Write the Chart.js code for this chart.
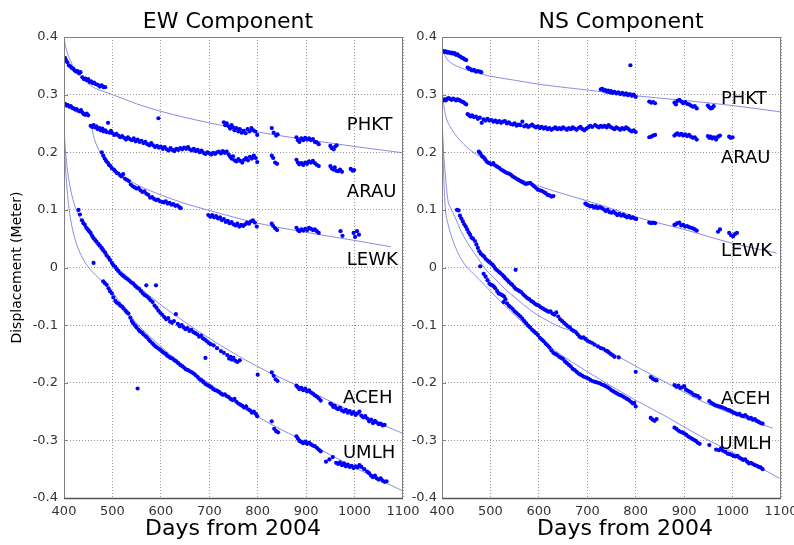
<!DOCTYPE html>
<html>
<head>
<meta charset="utf-8">
<script src="https://cdn.jsdelivr.net/npm/chart.js@4/dist/chart.umd.min.js"></script>
<style>
html,body{margin:0;padding:0;background:#fff;}
#wrap{position:relative;width:794px;height:545px;overflow:hidden;background:#fff;}
#c1{position:absolute;left:0;top:0;}
#c2{position:absolute;left:405px;top:0;}
</style>
</head>
<body>
<div id="wrap">
<canvas id="c1" width="420" height="545"></canvas>
<canvas id="c2" width="389" height="545"></canvas>
</div>
<script>
// ---------- tick labels ----------
const xTicks = [400, 500, 600, 700, 800, 900, 1000, 1100];
const yTicks = [-0.4, -0.3, -0.2, -0.1, 0, 0.1, 0.2, 0.3, 0.4];
const stations = ['PHKT', 'ARAU', 'LEWK', 'ACEH', 'UMLH'];

// ---------- EW component: observed daily positions [day, metre] ----------
const ewPHKT = [[402,0.364],[404,0.360],[407,0.356],[410,0.351],[413,0.349],[416,0.346],[419,0.345],[422,0.342],[425,0.340],[428,0.341],[431,0.337],[434,0.339],[438,0.330],[441,0.327],[444,0.328],[447,0.325],[450,0.327],[453,0.322],[456,0.323],[459,0.320],[462,0.321],[466,0.318],[470,0.317],[474,0.314],[478,0.316],[482,0.313],[485,0.313],
[595,0.259],
[730,0.252],[733,0.247],[736,0.250],[740,0.245],[743,0.241],[746,0.247],[749,0.243],[752,0.238],[756,0.242],[760,0.236],[763,0.240],[767,0.234],[771,0.237],[775,0.233],[779,0.240],[783,0.236],[787,0.242],[791,0.238],[795,0.236],[799,0.230],
[829,0.242],[833,0.234],[838,0.229],[841,0.231],
[880,0.226],[883,0.221],[886,0.218],[890,0.224],[894,0.221],[898,0.225],[902,0.222],[906,0.224],[910,0.221],[914,0.223],[918,0.218],[922,0.217],[926,0.214],
[950,0.211],[953,0.207],[957,0.205],[960,0.210],[963,0.212]];

const ewARAU = [[402,0.284],[405,0.281],[408,0.282],[411,0.279],[414,0.280],[417,0.277],[420,0.276],[423,0.274],[426,0.275],[429,0.272],[432,0.271],[435,0.273],[438,0.269],[441,0.266],[444,0.265],[447,0.267],[450,0.264],
[455,0.246],[458,0.244],[461,0.247],[464,0.243],[467,0.245],[470,0.240],[473,0.242],[476,0.238],[479,0.241],[482,0.236],[485,0.238],[488,0.235],[491,0.251],[494,0.234],[497,0.237],[500,0.233],[504,0.230],[508,0.232],[512,0.229],[516,0.226],[520,0.228],[524,0.225],[528,0.222],[532,0.226],[536,0.223],[540,0.221],[544,0.224],[548,0.219],[552,0.222],[556,0.218],[560,0.220],[564,0.216],[568,0.218],[572,0.214],[576,0.212],[580,0.216],[584,0.212],[588,0.209],[592,0.211],[596,0.208],[600,0.210],[604,0.206],[608,0.209],[612,0.205],[616,0.203],[620,0.207],[624,0.204],[628,0.202],[632,0.206],[636,0.204],[640,0.207],[644,0.205],[648,0.208],[652,0.206],[656,0.209],[660,0.205],[664,0.203],[668,0.206],[672,0.202],[676,0.204],[680,0.200],[684,0.203],[688,0.199],[692,0.197],[696,0.200],[700,0.198],[704,0.196],[708,0.199],[712,0.197],[716,0.200],[720,0.201],[724,0.198],[728,0.202],[732,0.199],[736,0.201],
[740,0.196],[743,0.192],[746,0.189],[749,0.193],[752,0.186],[756,0.184],[760,0.188],[764,0.185],[768,0.182],[772,0.187],[776,0.190],[780,0.186],[784,0.192],[788,0.189],[792,0.194],[796,0.190],[799,0.183],
[829,0.194],[832,0.190],[836,0.182],[840,0.180],
[880,0.187],[883,0.182],[886,0.179],[890,0.181],[894,0.178],[898,0.182],[902,0.180],[906,0.184],[910,0.182],[914,0.185],[918,0.181],[922,0.178],[926,0.176],
[950,0.176],[953,0.172],[956,0.170],[959,0.174],[962,0.168],[966,0.167],[970,0.170],[974,0.166],[992,0.171],[996,0.168],[999,0.169]];

const ewLEWK = [[478,0.200],[481,0.194],[484,0.189],[487,0.185],[490,0.182],[493,0.178],[496,0.176],[499,0.172],[503,0.170],[506,0.167],[509,0.164],[512,0.163],[516,0.160],[519,0.158],[522,0.162],[526,0.154],[530,0.152],[534,0.150],[538,0.144],[542,0.141],[546,0.139],[550,0.137],[554,0.138],[558,0.134],[562,0.131],[566,0.132],[570,0.128],[574,0.126],[578,0.121],[582,0.122],[586,0.119],[590,0.117],[594,0.118],[598,0.115],[602,0.114],[606,0.113],[610,0.115],[614,0.111],[618,0.112],[622,0.109],[626,0.110],[630,0.107],[634,0.108],[638,0.105],[641,0.103],
[698,0.091],[702,0.088],[706,0.091],[710,0.087],[714,0.089],[718,0.085],[722,0.087],[726,0.082],[730,0.084],[734,0.079],[738,0.081],[742,0.077],[746,0.079],[750,0.075],[754,0.073],[758,0.076],[762,0.071],[766,0.074],[770,0.072],[774,0.075],[778,0.078],[782,0.076],[786,0.080],[790,0.082],[794,0.078],[798,0.071],
[829,0.076],[832,0.072],[836,0.068],[840,0.065],
[880,0.069],[883,0.065],[886,0.063],[890,0.066],[894,0.064],[898,0.067],[902,0.065],[906,0.069],[910,0.067],[914,0.065],[918,0.066],[922,0.063],[926,0.060],
[971,0.063],[975,0.055],[998,0.060],[1001,0.053],[1005,0.063],[1009,0.057]];

const ewACEH = [[430,0.100],[433,0.092],[437,0.082],[440,0.077],[443,0.074],[446,0.069],[449,0.066],[452,0.063],[455,0.060],[458,0.055],[461,0.051],[464,0.048],[467,0.045],[471,0.041],[474,0.038],[478,0.034],[481,0.030],[485,0.026],[488,0.021],[492,0.017],[495,0.013],[499,0.008],[502,0.004],[506,0.001],[509,-0.003],[512,-0.006],[516,-0.010],[520,-0.013],[523,-0.015],[527,-0.018],[531,-0.020],[535,-0.023],[539,-0.026],[543,-0.028],[547,-0.032],[551,-0.035],[555,-0.037],[559,-0.041],[563,-0.045],[567,-0.048],[571,-0.050],[575,-0.053],[579,-0.057],[583,-0.060],[587,-0.066],[591,-0.070],[595,-0.075],[599,-0.079],[603,-0.082],[607,-0.086],[611,-0.090],[615,-0.088],[619,-0.094],[623,-0.096],[627,-0.093],[631,-0.081],[635,-0.098],[639,-0.102],[643,-0.100],[647,-0.104],[651,-0.107],[655,-0.105],[659,-0.110],[663,-0.108],[667,-0.112],[671,-0.114],[675,-0.116],[679,-0.120],[683,-0.118],[687,-0.123],[691,-0.125],[695,-0.128],[699,-0.131],[703,-0.133],[709,-0.135],[716,-0.140],[724,-0.145],[730,-0.148],[737,-0.152],[741,-0.158],[744,-0.155],[747,-0.160],[750,-0.157],[754,-0.162],[758,-0.164],[763,-0.161],
[570,-0.031],[590,-0.031],[692,-0.157],
[800,-0.186],[829,-0.182],[833,-0.188],[837,-0.194],[841,-0.197],
[880,-0.205],[883,-0.208],[886,-0.211],[890,-0.209],[894,-0.213],[898,-0.210],[902,-0.215],[906,-0.213],[910,-0.217],[914,-0.219],[918,-0.222],[922,-0.224],[926,-0.227],[930,-0.231],
[950,-0.236],[953,-0.238],[956,-0.242],[959,-0.240],[962,-0.244],[966,-0.246],[970,-0.243],[974,-0.248],[978,-0.250],[982,-0.247],[986,-0.252],[990,-0.249],[994,-0.254],[998,-0.251],[1002,-0.256],[1006,-0.253],[1010,-0.250],[1014,-0.257],[1018,-0.260],[1022,-0.258],[1026,-0.262],[1030,-0.267],[1034,-0.264],[1038,-0.270],[1042,-0.266],[1046,-0.269],[1050,-0.272],[1054,-0.271],[1058,-0.274],[1062,-0.273]];

const ewUMLH = [[461,0.008],[481,-0.024],[484,-0.027],[488,-0.030],[492,-0.036],[495,-0.041],[499,-0.045],[502,-0.052],[506,-0.058],[509,-0.061],[513,-0.063],[516,-0.066],[520,-0.068],[523,-0.071],[527,-0.075],[530,-0.078],[533,-0.080],[537,-0.087],[540,-0.093],[543,-0.097],[547,-0.101],[550,-0.104],[554,-0.108],[557,-0.111],[561,-0.113],[564,-0.116],[568,-0.119],[571,-0.121],[575,-0.125],[578,-0.128],[582,-0.131],[585,-0.134],[589,-0.137],[592,-0.139],[596,-0.141],[599,-0.143],[603,-0.146],[606,-0.148],[610,-0.150],[613,-0.153],[617,-0.155],[620,-0.157],[624,-0.158],[628,-0.161],[632,-0.163],[636,-0.166],[640,-0.169],[644,-0.171],[648,-0.174],[652,-0.177],[656,-0.178],[660,-0.180],[664,-0.182],[668,-0.184],[672,-0.187],[676,-0.190],[680,-0.194],[684,-0.196],[688,-0.199],[692,-0.202],[696,-0.204],[700,-0.206],[704,-0.208],[708,-0.211],[712,-0.213],[716,-0.214],[720,-0.216],[724,-0.219],[728,-0.221],[732,-0.220],[736,-0.223],[740,-0.225],[744,-0.228],[748,-0.230],[752,-0.228],[756,-0.233],[760,-0.236],[764,-0.238],[768,-0.240],[772,-0.243],[776,-0.241],[780,-0.246],[784,-0.248],[788,-0.252],[792,-0.250],[796,-0.254],[799,-0.258],
[552,-0.210],
[829,-0.267],[834,-0.280],[838,-0.284],[842,-0.286],
[880,-0.293],[883,-0.297],[886,-0.301],[890,-0.303],[894,-0.305],[898,-0.302],[902,-0.306],[906,-0.304],[910,-0.307],[914,-0.309],[918,-0.310],[922,-0.313],[926,-0.316],[930,-0.319],
[941,-0.337],[948,-0.333],[955,-0.329],[962,-0.339],[966,-0.341],[970,-0.338],[974,-0.343],[978,-0.340],[982,-0.345],[986,-0.342],[990,-0.346],[994,-0.344],[998,-0.348],[1002,-0.345],[1006,-0.347],[1010,-0.343],[1014,-0.346],[1020,-0.350],[1026,-0.354],[1030,-0.357],[1034,-0.361],[1038,-0.364],[1042,-0.361],[1046,-0.366],[1050,-0.368],[1054,-0.366],[1058,-0.370],[1062,-0.372],[1066,-0.371]];

// ---------- EW component: fitted curves ----------
const ewFitPHKT = [[400,0.400],[403,0.385],[407,0.372],[412,0.362],[419,0.349],[430,0.337],[440,0.327],[460,0.313],[480,0.306],[500,0.300],[550,0.284],[600,0.271],[700,0.251],[800,0.235],[900,0.222],[1000,0.210],[1100,0.199]];
const ewFitLEWK = [[457,0.245],[460,0.232],[464,0.220],[470,0.207],[481,0.192],[495,0.177],[509,0.166],[530,0.154],[557,0.141],[600,0.126],[650,0.111],[700,0.099],[800,0.077],[900,0.061],[1000,0.047],[1075,0.036]];
const ewFitACEH = [[400,0.245],[402,0.215],[405,0.185],[409,0.158],[415,0.130],[422,0.108],[432,0.088],[445,0.068],[460,0.048],[480,0.026],[500,0.008],[550,-0.030],[600,-0.065],[650,-0.095],[700,-0.123],[800,-0.172],[900,-0.212],[1000,-0.252],[1100,-0.288]];
const ewFitUMLH = [[400,0.245],[401,0.210],[403,0.175],[406,0.140],[409,0.112],[414,0.082],[420,0.058],[428,0.036],[438,0.017],[450,0.001],[465,-0.013],[480,-0.025],[500,-0.043],[550,-0.097],[600,-0.137],[650,-0.172],[700,-0.201],[800,-0.259],[900,-0.303],[1000,-0.347],[1100,-0.388]];

// ---------- NS component: observed daily positions ----------
const nsPHKT = [[402,0.376],[405,0.374],[408,0.375],[411,0.373],[414,0.374],[417,0.372],[420,0.373],[423,0.371],[426,0.372],[429,0.369],[432,0.370],[435,0.367],[438,0.366],[441,0.364],[444,0.363],[447,0.361],[450,0.360],
[453,0.347],[456,0.345],[459,0.344],[462,0.342],[466,0.343],[470,0.340],[474,0.341],[478,0.340],[481,0.339],
[789,0.351],
[728,0.309],[731,0.310],[734,0.307],[737,0.308],[740,0.305],[743,0.307],[746,0.304],[749,0.306],[752,0.303],[756,0.305],[760,0.302],[764,0.304],[768,0.301],[772,0.303],[776,0.300],[780,0.302],[784,0.299],[788,0.301],[792,0.298],[796,0.300],[800,0.296],
[828,0.288],[832,0.286],[836,0.287],[840,0.285],
[880,0.286],[883,0.283],[886,0.289],[890,0.291],[894,0.288],[898,0.285],[902,0.287],[906,0.284],[910,0.283],[914,0.281],[918,0.279],[922,0.280],[926,0.276],
[949,0.281],[952,0.278],[955,0.276],[958,0.277],[961,0.280]];

const nsARAU = [[402,0.290],[405,0.292],[408,0.290],[411,0.293],[414,0.294],[417,0.292],[420,0.291],[423,0.293],[426,0.292],[429,0.290],[432,0.292],[435,0.291],[438,0.289],[441,0.288],[444,0.287],[447,0.285],[450,0.283],
[453,0.266],[456,0.264],[459,0.262],[462,0.264],[466,0.261],[470,0.262],[474,0.258],[478,0.260],[482,0.251],[486,0.257],[490,0.255],[494,0.258],[498,0.255],[502,0.256],[506,0.253],[510,0.255],[514,0.252],[518,0.254],[522,0.251],[526,0.253],[530,0.254],[534,0.250],[538,0.252],[542,0.249],[546,0.248],[550,0.250],[554,0.246],[558,0.248],[562,0.247],[566,0.253],[570,0.245],[574,0.247],[578,0.244],[582,0.246],[586,0.248],[590,0.245],[594,0.243],[598,0.245],[602,0.242],[606,0.244],[610,0.241],[614,0.243],[618,0.240],[622,0.242],[626,0.239],[630,0.241],[634,0.243],[638,0.240],[642,0.242],[646,0.240],[650,0.243],[654,0.241],[658,0.239],[662,0.242],[666,0.240],[670,0.243],[674,0.241],[678,0.239],[682,0.242],[686,0.244],[690,0.240],[694,0.238],[698,0.241],[702,0.243],[706,0.246],[710,0.244],[716,0.247],[720,0.245],[724,0.243],[728,0.246],[732,0.244],[736,0.246],[740,0.243],[744,0.247],[748,0.244],[752,0.242],[756,0.240],[760,0.243],[764,0.241],[768,0.239],[772,0.242],[776,0.240],[780,0.243],[784,0.241],[788,0.238],[792,0.236],[796,0.238],[800,0.235],
[828,0.226],[832,0.227],[836,0.229],[840,0.230],
[880,0.229],[883,0.231],[886,0.233],[890,0.230],[894,0.232],[898,0.229],[902,0.231],[906,0.228],[910,0.230],[914,0.227],[918,0.225],[922,0.226],[926,0.222],
[949,0.228],[952,0.225],[955,0.227],[958,0.224],[962,0.226],[966,0.222],[970,0.227],[974,0.229],[993,0.227],[996,0.225],[1000,0.226]];

const nsLEWK = [[476,0.201],[478,0.199],[480,0.197],[483,0.193],[486,0.191],[489,0.188],[492,0.184],[495,0.182],[498,0.181],[502,0.179],[506,0.181],[510,0.177],[514,0.175],[518,0.173],[522,0.170],[526,0.168],[530,0.166],[534,0.164],[538,0.163],[542,0.161],[546,0.158],[550,0.156],[554,0.154],[558,0.152],[562,0.150],[566,0.148],[570,0.146],[574,0.145],[578,0.146],[582,0.147],[586,0.144],[590,0.141],[594,0.138],[598,0.135],[602,0.134],[606,0.133],[610,0.131],[614,0.129],[618,0.126],[622,0.125],[626,0.123],[630,0.124],
[696,0.111],[699,0.109],[702,0.108],[706,0.106],[710,0.107],[714,0.104],[718,0.106],[722,0.103],[726,0.105],[730,0.103],[734,0.101],[738,0.098],[742,0.100],[746,0.096],[750,0.095],[754,0.097],[758,0.094],[762,0.091],[766,0.093],[770,0.090],[774,0.092],[778,0.089],[782,0.087],[786,0.089],[790,0.086],[794,0.087],[798,0.085],[801,0.084],
[828,0.078],[832,0.077],[836,0.078],[840,0.077],
[880,0.074],[883,0.075],[886,0.077],[890,0.078],[894,0.073],[898,0.074],[902,0.071],[906,0.072],[910,0.070],[914,0.069],[918,0.068],[922,0.066],[926,0.064],
[970,0.062],[974,0.066],[993,0.060],[997,0.056],[1001,0.054],[1005,0.058],[1009,0.060]];

const nsACEH = [[431,0.100],[434,0.099],[437,0.090],[440,0.085],[443,0.080],[446,0.075],[449,0.071],[452,0.066],[455,0.061],[458,0.057],[461,0.052],[464,0.050],[468,0.046],[471,0.040],[474,0.034],[477,0.028],[480,0.024],[484,0.021],[487,0.019],[490,0.015],[494,0.012],[497,0.010],[500,0.008],[504,0.005],[507,0.002],[510,-0.002],[514,-0.005],[518,-0.008],[521,-0.010],[525,-0.013],[528,-0.016],[531,-0.019],[535,-0.022],[538,-0.025],[542,-0.028],[545,-0.030],[549,-0.034],[552,-0.037],[556,-0.039],[560,-0.041],[564,-0.043],[568,-0.047],[572,-0.050],[576,-0.053],[580,-0.055],[584,-0.058],[588,-0.060],[592,-0.063],[596,-0.065],[600,-0.066],[604,-0.069],[608,-0.071],[612,-0.073],[616,-0.075],[620,-0.077],[624,-0.076],[628,-0.080],[632,-0.082],[636,-0.078],[640,-0.085],[644,-0.090],[648,-0.093],[652,-0.096],[656,-0.099],[660,-0.102],[664,-0.104],[668,-0.108],[672,-0.110],[676,-0.112],[680,-0.116],[684,-0.120],[688,-0.122],[692,-0.121],[696,-0.124],[700,-0.127],[705,-0.129],[710,-0.131],[715,-0.134],[722,-0.137],[728,-0.140],[733,-0.141],[738,-0.144],[741,-0.145],[744,-0.147],[748,-0.150],[752,-0.152],[756,-0.155],[765,-0.156],
[552,-0.004],
[800,-0.181],[831,-0.190],[835,-0.193],[839,-0.195],[843,-0.196],
[880,-0.204],[884,-0.207],[888,-0.205],[892,-0.209],[896,-0.208],[900,-0.206],[904,-0.212],[908,-0.214],[912,-0.216],[916,-0.218],[920,-0.221],[924,-0.222],[928,-0.223],[932,-0.226],
[952,-0.232],[956,-0.235],[960,-0.237],[964,-0.239],[968,-0.240],[972,-0.241],[976,-0.242],[980,-0.243],[985,-0.245],[990,-0.247],[994,-0.248],[998,-0.250],[1002,-0.252],[1006,-0.253],[1010,-0.255],[1014,-0.254],[1018,-0.257],[1022,-0.258],[1026,-0.256],[1030,-0.259],[1034,-0.262],[1038,-0.261],[1042,-0.264],[1046,-0.263],[1050,-0.266],[1054,-0.268],[1058,-0.270],[1062,-0.271]];

const nsUMLH = [[479,0.002],[486,-0.011],[490,-0.016],[494,-0.022],[498,-0.028],[501,-0.030],[504,-0.031],[507,-0.033],[510,-0.036],[514,-0.041],[517,-0.045],[520,-0.046],[524,-0.048],[528,-0.050],[531,-0.055],[534,-0.062],[538,-0.066],[542,-0.069],[546,-0.072],[550,-0.076],[554,-0.079],[558,-0.082],[562,-0.085],[566,-0.089],[570,-0.093],[574,-0.097],[578,-0.101],[582,-0.104],[586,-0.108],[590,-0.111],[594,-0.114],[598,-0.117],[602,-0.122],[606,-0.125],[610,-0.128],[614,-0.132],[618,-0.135],[622,-0.139],[626,-0.144],[630,-0.148],[634,-0.150],[638,-0.152],[642,-0.155],[646,-0.157],[650,-0.159],[654,-0.163],[658,-0.166],[662,-0.169],[666,-0.172],[670,-0.176],[674,-0.178],[678,-0.181],[682,-0.184],[686,-0.186],[690,-0.188],[694,-0.190],[698,-0.191],[702,-0.193],[706,-0.195],[710,-0.197],[714,-0.198],[718,-0.199],[722,-0.200],[726,-0.201],[730,-0.203],[734,-0.204],[738,-0.206],[742,-0.208],[746,-0.210],[750,-0.213],[754,-0.215],[758,-0.217],[762,-0.219],[766,-0.221],[770,-0.222],[774,-0.224],[778,-0.226],[782,-0.228],[786,-0.230],[790,-0.233],[794,-0.236],[797,-0.235],[800,-0.241],
[527,-0.060],
[831,-0.261],[835,-0.264],[839,-0.266],[843,-0.263],
[880,-0.278],[884,-0.280],[888,-0.283],[892,-0.285],[896,-0.286],[900,-0.288],[904,-0.290],[908,-0.293],[912,-0.295],[916,-0.297],[920,-0.299],[924,-0.301],[928,-0.304],[932,-0.306],
[952,-0.308],[966,-0.316],[972,-0.317],[976,-0.314],[980,-0.318],[985,-0.320],[990,-0.323],[994,-0.324],[998,-0.325],[1002,-0.327],[1006,-0.328],[1010,-0.327],[1014,-0.330],[1018,-0.332],[1022,-0.334],[1026,-0.333],[1030,-0.337],[1034,-0.340],[1038,-0.339],[1042,-0.341],[1046,-0.343],[1050,-0.344],[1054,-0.346],[1058,-0.347],[1062,-0.350]];

// ---------- NS component: fitted curves ----------
const nsFitPHKT = [[400,0.381],[405,0.370],[412,0.360],[425,0.352],[450,0.343],[475,0.337],[500,0.332],[550,0.325],[600,0.318],[700,0.308],[800,0.298],[900,0.290],[1000,0.281],[1100,0.270]];
const nsFitLEWK = [[400,0.346],[401,0.310],[402,0.292],[404,0.280],[408,0.262],[420,0.240],[436,0.222],[455,0.206],[477,0.193],[500,0.180],[532,0.164],[601,0.141],[670,0.123],[726,0.109],[808,0.086],[900,0.066],[1000,0.042],[1091,0.025]];
const nsFitACEH = [[400,0.270],[402,0.220],[405,0.180],[408,0.150],[412,0.118],[418,0.103],[426,0.089],[440,0.062],[457,0.037],[475,0.015],[491,-0.004],[510,-0.020],[532,-0.039],[555,-0.055],[581,-0.073],[615,-0.091],[643,-0.103],[670,-0.111],[700,-0.127],[739,-0.143],[808,-0.175],[866,-0.201],[934,-0.231],[1003,-0.255],[1083,-0.279]];
const nsFitUMLH = [[400,0.270],[401,0.230],[403,0.170],[405,0.130],[407,0.100],[412,0.077],[422,0.048],[435,0.022],[450,0.002],[465,-0.011],[477,-0.021],[500,-0.041],[532,-0.068],[565,-0.094],[601,-0.122],[640,-0.148],[670,-0.165],[728,-0.195],[797,-0.229],[866,-0.260],[934,-0.293],[1003,-0.322],[1097,-0.366]];

// ---------- station label anchors [day, metre] ----------
const ewLabelAt = [[984,0.247],[984,0.131],[984,0.013],[976,-0.227],[976,-0.322]];
const nsLabelAt = [[976,0.291],[976,0.189],[976,0.028],[976,-0.228],[973,-0.307]];

// ---------- styling / build ----------
Chart.defaults.font.family = '"DejaVu Sans", sans-serif';
const DOT = '#0000ff';
const FIT = '#6f6fd8';

function pts(a){ return a.map(p => ({x:p[0], y:p[1]})); }
function dots(a){ return {data: pts(a), pointRadius: 2.1, pointHoverRadius: 2.1, pointBackgroundColor: DOT, pointBorderWidth: 0, showLine: false, order: 1}; }
function fit(a){ return {data: pts(a), showLine: true, pointRadius: 0, borderColor: FIT, borderWidth: 0.8, cubicInterpolationMode: 'monotone', fill: false, order: 2}; }

const framePlugin = {
  id: 'frame',
  afterDraw(chart, args, o) {
    const {ctx, chartArea: a, scales} = chart;
    ctx.save();
    ctx.strokeStyle = '#808080';
    ctx.lineWidth = 1;
    ctx.strokeRect(a.left + 0.5, a.top + 0.5, a.right - a.left - 1, a.bottom - a.top);
    yTicks.forEach(v => {
      const y = Math.round(scales.y.getPixelForValue(v)) + 0.5;
      ctx.beginPath(); ctx.moveTo(a.left, y); ctx.lineTo(a.left + 4, y); ctx.stroke();
    });
    ctx.strokeStyle = '#555';
    ctx.lineWidth = 1.6;
    ctx.beginPath(); ctx.moveTo(a.left, a.bottom + 0.5); ctx.lineTo(a.right, a.bottom + 0.5); ctx.stroke();
    ctx.fillStyle = '#000';
    ctx.textAlign = 'center';
    ctx.textBaseline = 'alphabetic';
    ctx.font = '22px "DejaVu Sans"';
    ctx.fillText(o.title, o.titleX, 28);
    ctx.fillText('Days from 2004', o.xTitleX, 535);
    ctx.font = '18px "DejaVu Sans"';
    ctx.textAlign = 'left';
    ctx.textBaseline = 'middle';
    stations.forEach((s, i) => {
      const p = o.labelAt[i];
      ctx.fillText(s, scales.x.getPixelForValue(p[0]), scales.y.getPixelForValue(p[1]));
    });
    ctx.restore();
  }
};

function makeChart(id, series, fits, opt) {
  const datasets = series.map(dots).concat(fits.map(fit));
  return new Chart(document.getElementById(id), {
    type: 'scatter',
    data: {datasets},
    plugins: [framePlugin],
    options: {
      responsive: false,
      animation: false,
      devicePixelRatio: 1,
      layout: {padding: {top: 37, right: opt.padRight, left: 0, bottom: 0}},
      plugins: {legend: {display: false}, tooltip: {enabled: false},
        frame: {title: opt.title, titleX: opt.titleX, xTitleX: opt.xTitleX, labelAt: opt.labelAt}},
      scales: {
        x: {
          type: 'linear', min: 400, max: 1100,
          afterBuildTicks: s => { s.ticks = xTicks.map(v => ({value: v})); },
          afterFit: s => { s.height = 47; s.paddingLeft = 0; s.paddingRight = 0; },
          grid: {color: '#9a9a9a', lineWidth: 1, drawTicks: false},
          border: {display: false, dash: [1, 2]},
          ticks: {color: '#333', font: {size: 13}, padding: 6, maxRotation: 0,
                  callback: v => String(v)}
        },
        y: {
          type: 'linear', min: -0.4, max: 0.4,
          afterBuildTicks: s => { s.ticks = yTicks.map(v => ({value: v})); },
          afterFit: s => { s.width = opt.yWidth; s.paddingTop = 0; s.paddingBottom = 0; },
          grid: {color: '#9a9a9a', lineWidth: 1, drawTicks: false},
          border: {display: false, dash: [1, 2]},
          ticks: {color: '#333', font: {size: 13}, padding: opt.yPad,
                  callback: v => String(Number(v.toFixed(1)))},
          title: {display: opt.yTitle, text: 'Displacement (Meter)', color: '#000',
                  font: {size: 14}, padding: {top: 9, bottom: 0}}
        }
      }
    }
  });
}

makeChart('c1', [ewPHKT, ewARAU, ewLEWK, ewACEH, ewUMLH],
  [ewFitPHKT, ewFitLEWK, ewFitACEH, ewFitUMLH],
  {title: 'EW Component', titleX: 228, xTitleX: 233, labelAt: ewLabelAt, padRight: 17, yWidth: 64, yPad: 6, yTitle: true});

makeChart('c2', [nsPHKT, nsARAU, nsLEWK, nsACEH, nsUMLH],
  [nsFitPHKT, nsFitLEWK, nsFitACEH, nsFitUMLH],
  {title: 'NS Component', titleX: 216, xTitleX: 220, labelAt: nsLabelAt, padRight: 13, yWidth: 37, yPad: 5, yTitle: false});
</script>
</body>
</html>
